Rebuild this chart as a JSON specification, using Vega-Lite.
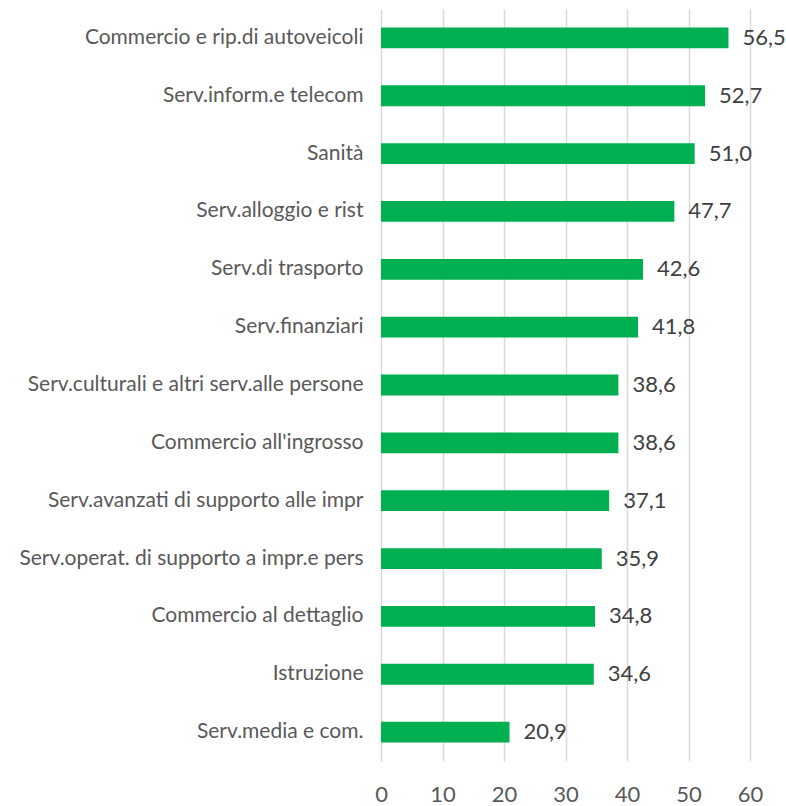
{
  "$schema": "https://vega.github.io/schema/vega-lite/v6.json",
  "autosize": "none",
  "padding": {"left": 381, "top": 9, "right": 36, "bottom": 45},
  "width": 369,
  "height": 752,
  "background": "white",
  "config": {
    "locale": {"number": {"decimal": ",", "thousands": ".", "grouping": [3], "currency": ["", " €"]}},
    "view": {"stroke": null},
    "font": "Lato"
  },
  "data": {
    "values": [
      {"settore": "Commercio e rip.di autoveicoli", "valore": 56.5},
      {"settore": "Serv.inform.e telecom", "valore": 52.7},
      {"settore": "Sanità", "valore": 51.0},
      {"settore": "Serv.alloggio e rist", "valore": 47.7},
      {"settore": "Serv.di trasporto", "valore": 42.6},
      {"settore": "Serv.finanziari", "valore": 41.8},
      {"settore": "Serv.culturali e altri serv.alle persone", "valore": 38.6},
      {"settore": "Commercio all'ingrosso", "valore": 38.6},
      {"settore": "Serv.avanzati di supporto alle impr", "valore": 37.1},
      {"settore": "Serv.operat. di supporto a impr.e pers", "valore": 35.9},
      {"settore": "Commercio al dettaglio", "valore": 34.8},
      {"settore": "Istruzione ", "valore": 34.6},
      {"settore": "Serv.media e com.", "valore": 20.9}
    ]
  },
  "encoding": {
    "y": {
      "field": "settore", "type": "nominal", "sort": null,
      "scale": {"paddingInner": 0.64, "paddingOuter": 0.32},
      "axis": {"title": null, "domain": false, "ticks": false, "labelPadding": 18, "labelFontSize": 21, "labelColor": "#595959", "labelFont": "Lato", "labelLimit": 400}
    },
    "x": {
      "field": "valore", "type": "quantitative",
      "scale": {"domain": [0, 60], "nice": false},
      "axis": {"title": null, "values": [0, 10, 20, 30, 40, 50, 60], "format": "d", "domain": false, "ticks": false, "labelPadding": 23, "labelFontSize": 22, "labelColor": "#595959", "labelFont": "Lato", "gridColor": "#d9d9d9", "gridWidth": 1.5, "labelFlush": false}
    }
  },
  "layer": [
    {"mark": {"type": "bar", "color": "#00B050"}},
    {
      "mark": {"type": "text", "align": "left", "baseline": "middle", "dx": 14, "fontSize": 22, "color": "#404040", "font": "Lato"},
      "encoding": {"text": {"field": "valore", "type": "quantitative", "format": ".1f"}}
    }
  ]
}
